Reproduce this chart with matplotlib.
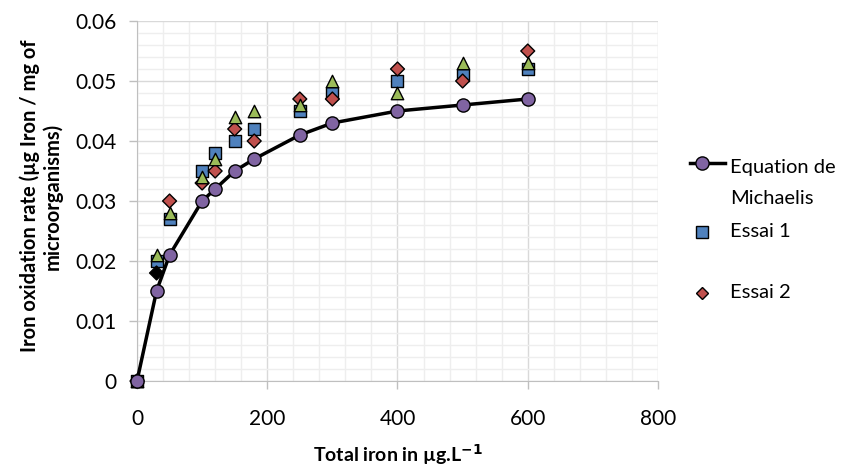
import matplotlib
matplotlib.use("Agg")
import matplotlib.pyplot as plt
from matplotlib.lines import Line2D
from matplotlib.ticker import MultipleLocator, FuncFormatter

plt.rcParams['font.family'] = ['Lato', 'DejaVu Sans']

# data
iron = [0, 30, 50, 100, 120, 150, 180, 250, 300, 400, 500, 600]
michaelis = [0, 0.015, 0.021, 0.030, 0.032, 0.035, 0.037, 0.041, 0.043, 0.045, 0.046, 0.047]
essai1 = [0, 0.020, 0.027, 0.035, 0.038, 0.040, 0.042, 0.045, 0.048, 0.050, 0.051, 0.052]
essai2 = [0, 0.018, 0.030, 0.033, 0.035, 0.042, 0.040, 0.047, 0.047, 0.052, 0.050, 0.055]
essai3 = [0, 0.021, 0.028, 0.034, 0.037, 0.044, 0.045, 0.046, 0.050, 0.048, 0.053, 0.053]

PURPLE = "#8064A2"
BLUE = "#4F81BD"
RED = "#C0504D"
GREEN = "#9BBB59"

W, H = 845, 469
fig = plt.figure(figsize=(W / 100, H / 100), dpi=100)
ax = fig.add_axes([137 / W, 1 - 381 / H, (658 - 137) / W, (381 - 21) / H])

# grid
ax.xaxis.set_major_locator(MultipleLocator(200))
ax.xaxis.set_minor_locator(MultipleLocator(40))
ax.yaxis.set_major_locator(MultipleLocator(0.01))
ax.yaxis.set_minor_locator(MultipleLocator(0.002))
ax.grid(which='major', color='#d9d9d9', lw=1.0, zorder=0)
ax.grid(which='minor', color='#eeeeee', lw=1.0, zorder=0)
ax.set_axisbelow(True)

ax.set_xlim(0, 800)
ax.set_ylim(0, 0.06)

# points (one Essai 2 point is drawn black in the original)
e2_colors = [RED] * len(essai2)
e2_colors[1] = 'black'
ax.scatter(iron, essai1, marker='s', s=75, c=BLUE, edgecolors='black', linewidths=1, zorder=3, clip_on=False)
ax.scatter(iron, essai2, marker='D', s=50, c=e2_colors, edgecolors='black', linewidths=1, zorder=4, clip_on=False)
ax.scatter(iron, essai3, marker='^', s=80, c=GREEN, edgecolors='black', linewidths=1, zorder=5, clip_on=False)
ax.plot(iron, michaelis, color='black', lw=2.5, marker='o', ms=9.5, mfc=PURPLE, mec='black', mew=1,
        zorder=6, clip_on=False)

ax.yaxis.set_major_formatter(FuncFormatter(lambda v, p: '0' if abs(v) < 1e-9 else f'{v:.2f}'))
ax.tick_params(axis='both', which='major', labelsize=15, color='#bfbfbf', length=6, width=1)
ax.tick_params(axis='both', which='minor', length=0)
ax.tick_params(axis='x', pad=14)
ax.tick_params(axis='y', pad=9)
for s in ['top', 'right']:
    ax.spines[s].set_visible(False)
for s in ['left', 'bottom']:
    ax.spines[s].set_color('#bfbfbf')

fig.text((137 + 658) / 2 / W, 1 - 455 / H, 'Total iron in µg.L$^{\\mathbf{-1}}$', ha='center', va='center',
         fontsize=14, fontweight='bold')
fig.text(41 / W, 1 - 196 / H, 'Iron oxidation rate (µg Iron / mg of\nmicroorganisms)', ha='center',
         va='center', rotation=90, fontsize=14.5, fontweight='bold', linespacing=1.1)

# legend drawn by hand to keep the two-line label layout
fig.add_artist(Line2D([690 / W, 725 / W], [1 - 163 / H] * 2, color='black', lw=2.5,
                      transform=fig.transFigure))
fig.add_artist(Line2D([702 / W], [1 - 163 / H], marker='o', ms=9.5, mfc=PURPLE, mec='black',
                      transform=fig.transFigure))
fig.add_artist(Line2D([702 / W], [1 - 232 / H], marker='s', ms=8.5, mfc=BLUE, mec='black',
                      transform=fig.transFigure))
fig.add_artist(Line2D([702 / W], [1 - 293 / H], marker='D', ms=6.5, mfc=RED, mec='black',
                      transform=fig.transFigure))
fig.text(730 / W, 1 - 167 / H, 'Equation de', va='center', fontsize=14.5)
fig.text(730 / W, 1 - 199 / H, 'Michaelis', va='center', fontsize=14.5)
fig.text(730 / W, 1 - 231 / H, 'Essai 1', va='center', fontsize=14.5)
fig.text(730 / W, 1 - 292 / H, 'Essai 2', va='center', fontsize=14.5)

fig.savefig("out.png", dpi=100)
